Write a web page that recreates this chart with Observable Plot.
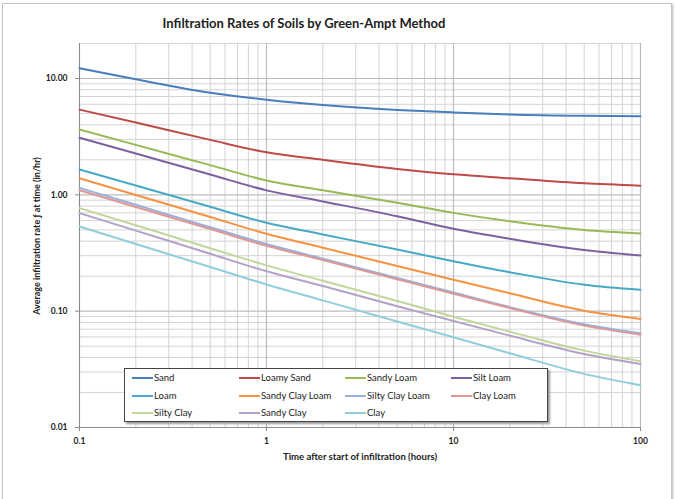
<!DOCTYPE html>
<html>
<head>
<meta charset="utf-8">
<script src="https://cdn.jsdelivr.net/npm/d3@7"></script>
<script src="https://cdn.jsdelivr.net/npm/@observablehq/plot@0.6"></script>
<style>
  html, body { margin: 0; padding: 0; background: #fff; }
  #wrap { position: relative; width: 677px; height: 499px; overflow: hidden; font-family: Lato, "Open Sans", sans-serif; }
  #frame { position: absolute; left: 2px; top: 3px; width: 668px; height: 520px; border: 1px solid #c4c4c4; box-shadow: 1px 1px 2px #bbb; }
  #chart { position: absolute; left: 0; top: 0; }
  #title { position: absolute; left: 104px; top: 15px; width: 400px; text-align: center; font-weight: bold; font-size: 13px; color: #222; }
  #xlabel { position: absolute; left: 210px; top: 451px; width: 300px; text-align: center; font-weight: bold; font-size: 9.5px; color: #222; }
  #ylabel { position: absolute; left: -93px; top: 230px; width: 260px; text-align: center; font-weight: bold; font-size: 9px; color: #222; transform: rotate(-90deg); transform-origin: 130px 6px; }
  #legend { position: absolute; left: 124px; top: 368px; width: 422px; height: 52px; background: #fff; border: 1px solid #444; box-shadow: 2px 2px 2px #999; }
  .li { position: absolute; font-size: 9.5px; color: #222; line-height: 12px; white-space: nowrap; }
  .li span.sw { display: inline-block; width: 21px; height: 2px; vertical-align: middle; margin-right: 1px; position: relative; top: -1px; }
</style>
</head>
<body>
<div id="wrap">
  <div id="frame"></div>
  <div id="chart"></div>
  <div id="title">Infiltration Rates of Soils by Green-Ampt Method</div>
  <div id="xlabel">Time after start of infiltration (hours)</div>
  <div id="ylabel">Average infiltration rate ƒ at time (in/hr)</div>
  <div id="legend"></div>
</div>
<script>
// ---- data ----
const times = [0.1, 0.2, 0.5, 1, 2, 5, 10, 20, 50, 100];

const soilNames = ["Sand", "Loamy Sand", "Sandy Loam", "Silt Loam", "Loam", "Sandy Clay Loam",
                   "Silty Clay Loam", "Clay Loam", "Silty Clay", "Sandy Clay", "Clay"];

const sand          = [12.24, 9.84, 7.55, 6.58, 5.92, 5.37, 5.11, 4.91, 4.78, 4.74];
const loamySand     = [5.40, 4.19, 2.97, 2.32, 2.00, 1.67, 1.50, 1.386, 1.255, 1.20];
const sandyLoam     = [3.64, 2.69, 1.80, 1.33, 1.093, 0.854, 0.70, 0.592, 0.498, 0.465];
const siltLoam      = [3.10, 2.27, 1.496, 1.093, 0.878, 0.654, 0.511, 0.419, 0.335, 0.301];
const loam          = [1.649, 1.202, 0.789, 0.575, 0.457, 0.3386, 0.2686, 0.2162, 0.1689, 0.1529];
const sandyClayLoam = [1.391, 0.998, 0.645, 0.4627, 0.3514, 0.2447, 0.1864, 0.1427, 0.1010, 0.0857];
const siltyClayLoam = [1.148, 0.821, 0.527, 0.3775, 0.2828, 0.1931, 0.1447, 0.1084, 0.0773, 0.0645];
const clayLoam      = [1.097, 0.787, 0.509, 0.3650, 0.2751, 0.1882, 0.1413, 0.1063, 0.0751, 0.0628];
const siltyClay     = [0.769, 0.547, 0.348, 0.2477, 0.1827, 0.1224, 0.0897, 0.0667, 0.0458, 0.0371];
const sandyClay     = [0.6966, 0.4929, 0.3116, 0.2205, 0.1645, 0.1104, 0.0824, 0.0616, 0.0429, 0.0352];
const clay          = [0.534, 0.378, 0.240, 0.1698, 0.1238, 0.0816, 0.0596, 0.0435, 0.0289, 0.0231];

const xTicks = [0.1, 1, 10, 100];
const xTickLabels = ["0.1", "1", "10", "100"];
const yTicks = [0.01, 0.1, 1, 10];
const yTickLabels = ["0.01", "0.10", "1.00", "10.00"];

// ---- styling ----
const colors = ["#4A7EBB", "#BE4B48", "#98B954", "#7D60A0", "#46AAC5", "#F69240",
                "#98AFDC", "#DE9895", "#C2D69B", "#B3A2C7", "#92CDDC"];

const seriesValues = [sand, loamySand, sandyLoam, siltLoam, loam, sandyClayLoam,
                      siltyClayLoam, clayLoam, siltyClay, sandyClay, clay];

const rows = [];
soilNames.forEach((name, i) => {
  times.forEach((t, j) => rows.push({soil: name, t, v: seriesValues[i][j]}));
});

const xLabelOf = new Map(xTicks.map((d, i) => [d, xTickLabels[i]]));
const yLabelOf = new Map(yTicks.map((d, i) => [d, yTickLabels[i]]));

// minor grid values (2..9 within each decade)
const xMinor = [], yMinor = [];
[0.1, 1, 10].forEach(d => { for (let k = 2; k <= 9; k++) xMinor.push(d * k); });
[0.01, 0.1, 1].forEach(d => { for (let k = 2; k <= 9; k++) yMinor.push(+(d * k).toPrecision(3)); });
yMinor.push(20);

const chart = Plot.plot({
  width: 677,
  height: 499,
  marginTop: 43,
  marginLeft: 79,
  marginRight: 37,
  marginBottom: 72,
  style: {fontFamily: "Lato, 'Open Sans', sans-serif", fontSize: "8.5px", color: "#222", background: "transparent"},
  x: {type: "log", domain: [0.1, 100]},
  y: {type: "log", domain: [0.01, 20]},
  color: {domain: soilNames, range: colors},
  marks: [
    Plot.ruleX(xMinor, {stroke: "#d4d4d4", strokeWidth: 1}),
    Plot.ruleY(yMinor, {stroke: "#d4d4d4", strokeWidth: 1}),
    Plot.ruleX(xTicks, {stroke: "#bdbdbd", strokeWidth: 1.2}),
    Plot.ruleY(yTicks, {stroke: "#bdbdbd", strokeWidth: 1.2}),
    Plot.ruleX([0.1], {stroke: "#8c8c8c"}),
    Plot.ruleY([0.01], {stroke: "#8c8c8c"}),
    Plot.axisX({ticks: xTicks, tickFormat: d => xLabelOf.get(d) ?? String(d), tickSize: 4, tickPadding: 6, label: null, stroke: "#8c8c8c", fill: "#222", fontWeight: "bold"}),
    Plot.axisY({ticks: yTicks, tickFormat: d => yLabelOf.get(d) ?? d.toFixed(2), tickSize: 4, tickPadding: 8, label: null, stroke: "#8c8c8c", fill: "#222", fontWeight: "bold"}),
    Plot.line(rows, {x: "t", y: "v", z: "soil", stroke: "soil", strokeWidth: 2, curve: "monotone-x"})
  ]
});
document.getElementById("chart").appendChild(chart);

// ---- legend (HTML) ----
const legend = document.getElementById("legend");
const colX = [7, 114, 220, 326];
const rowY = [3, 21, 38];
soilNames.forEach((name, i) => {
  const r = Math.floor(i / 4), c = i % 4;
  const d = document.createElement("div");
  d.className = "li";
  d.style.left = colX[c] + "px";
  d.style.top = rowY[r] + "px";
  d.innerHTML = `<span class="sw" style="background:${colors[i]}"></span>${name}`;
  legend.appendChild(d);
});
</script>
</body>
</html>
